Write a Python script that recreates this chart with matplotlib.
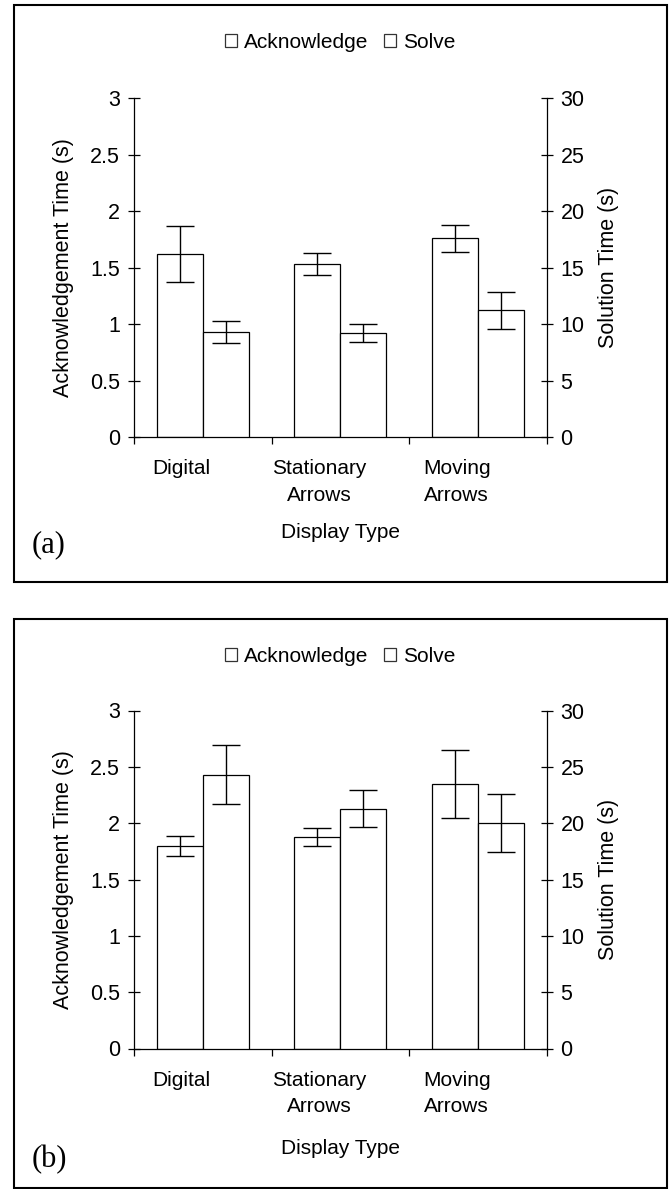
import matplotlib
matplotlib.use('Agg')
import matplotlib.pyplot as plt
from matplotlib.patches import Rectangle, Patch
import numpy as np

plt.rcParams.update({
    'font.family': ['Liberation Sans', 'DejaVu Sans'],
    'font.size': 15,
})

categories = ['Digital', 'Stationary\nArrows', 'Moving\nArrows']

# panel (a)
ack_a = [1.62, 1.53, 1.76]
ack_a_err = [0.25, 0.10, 0.12]
solve_a = [9.3, 9.2, 11.2]
solve_a_err = [0.95, 0.78, 1.65]

# panel (b)
ack_b = [1.80, 1.88, 2.35]
ack_b_err = [0.09, 0.08, 0.30]
solve_b = [24.3, 21.3, 20.0]
solve_b_err = [2.6, 1.6, 2.55]

W, H = 671, 1189
fig = plt.figure(figsize=(W / 100, H / 100), dpi=100)


def px_axes(left, right, top, bottom):
    return [left / W, 1 - bottom / H, (right - left) / W, (bottom - top) / H]


def panel(rect, ack, ack_err, solve, solve_err, legend_y, title_y, tag, tag_y):
    ax = fig.add_axes(rect)
    ax2 = ax.twinx()
    x = np.arange(len(categories)) + 0.5
    w = 0.335
    bar_kw = dict(width=w, color='white', edgecolor='black', linewidth=0.9)
    err_kw = dict(fmt='none', ecolor='black', elinewidth=1.0, capsize=10, capthick=1.0)

    ax.bar(x - w / 2, ack, **bar_kw)
    ax.errorbar(x - w / 2, ack, yerr=ack_err, **err_kw)
    ax2.bar(x + w / 2, solve, **bar_kw)
    ax2.errorbar(x + w / 2, solve, yerr=solve_err, **err_kw)

    ax.set_xlim(0, 3)
    ax.set_ylim(0, 3)
    ax2.set_ylim(0, 30)
    ax.set_yticks(np.arange(0, 3.01, 0.5))
    ax.set_yticklabels(['0', '0.5', '1', '1.5', '2', '2.5', '3'])
    ax2.set_yticks(np.arange(0, 31, 5))

    for a in (ax, ax2):
        a.spines['top'].set_visible(False)
        for s in a.spines.values():
            s.set_linewidth(0.9)
    ax.spines['right'].set_visible(False)
    ax2.spines['left'].set_visible(False)
    ax2.spines['bottom'].set_visible(False)

    ax.tick_params(axis='y', direction='inout', length=9, width=0.9, pad=5.5, labelsize=15.5)
    ax2.tick_params(axis='y', direction='inout', length=9, width=0.9, pad=5.5, labelsize=15.5)

    ax.set_xticks([0, 1, 2, 3])
    ax.set_xticklabels([])
    ax.tick_params(axis='x', which='major', direction='out', length=5, width=0.9)
    ax.set_xticks(x - 0.155, minor=True)
    ax.set_xticklabels(categories, minor=True)
    ax.tick_params(axis='x', which='minor', length=0, pad=16, labelsize=15)
    for lbl in ax.get_xticklabels(minor=True):
        lbl.set_linespacing(1.5)

    ax.set_ylabel('Acknowledgement Time (s)', fontsize=15.5)
    ax.yaxis.set_label_coords(-0.172, 0.5)
    ax.yaxis.label.set_va('center')
    ax2.set_ylabel('Solution Time (s)', fontsize=15.5)
    ax2.yaxis.set_label_coords(1.149, 0.5)
    ax2.yaxis.label.set_va('center')

    cx = rect[0] + rect[2] / 2
    fig.text(cx, 1 - title_y / H, 'Display Type', ha='center', va='center', fontsize=15)
    fig.text(49 / W, 1 - tag_y / H, tag, ha='center', va='center', fontsize=22,
             family=['Liberation Serif', 'DejaVu Serif'])

    handles = [Patch(facecolor='white', edgecolor='#333333', linewidth=0.9),
               Patch(facecolor='white', edgecolor='#333333', linewidth=0.9)]
    fig.legend(handles, ['Acknowledge', 'Solve'], loc='center', ncol=2,
               bbox_to_anchor=(cx, 1 - legend_y / H), frameon=False,
               handlelength=0.58, handleheight=0.58, handletextpad=0.34,
               columnspacing=0.77, borderpad=0, fontsize=15)
    return ax


panel(px_axes(134, 546.7, 98, 437), ack_a, ack_a_err, solve_a, solve_a_err,
      42.7, 533, '(a)', 545)
panel(px_axes(134, 546.7, 710.5, 1048.5), ack_b, ack_b_err, solve_b, solve_b_err,
      656, 1149, '(b)', 1160)

# outer frames around each panel
for top, bottom in [(5.3, 582), (618.7, 1187.5)]:
    fig.patches.append(Rectangle((14.3 / W, 1 - bottom / H), (667.3 - 14.3) / W,
                                 (bottom - top) / H, transform=fig.transFigure,
                                 fill=False, edgecolor='black', linewidth=1.5))

fig.savefig('out.png', dpi=100)
